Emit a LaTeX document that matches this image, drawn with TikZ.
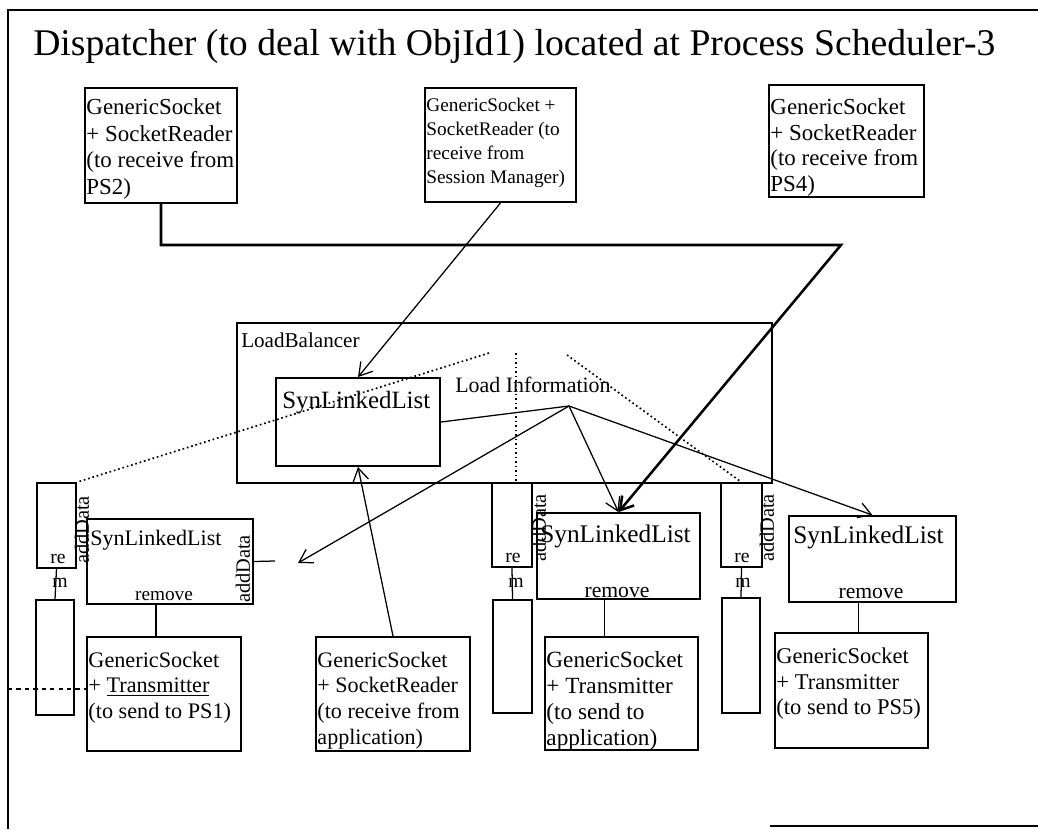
\documentclass[tikz,border=0pt]{standalone}
\usepackage{fontspec}
\setmainfont{Liberation Serif}
\usetikzlibrary{arrows.meta,fit}

\newcommand{\fsz}[2]{\fontsize{#1pt}{#2pt}\selectfont}

\begin{document}
\begin{tikzpicture}[x=0.025cm, y=-0.025cm,
    >={Straight Barb[length=9pt,width=11pt]},
    box/.style={draw, line width=1.3pt, inner sep=0pt},
    slot/.style={draw, line width=1.1pt, inner sep=0pt},
    txt/.style={anchor=north west, align=left, inner xsep=1.5pt, inner ysep=8pt},
    lbl/.style={anchor=base west, inner sep=0pt},
    link/.style={line width=0.9pt},
    dots/.style={dotted, line width=1.2pt},
    vlabel/.style={rotate=90, inner sep=0pt, font=\fsz{14.5}{15}}]

    \useasboundingbox (0,0) rectangle (1038,829);

    % Marco
    \draw[line width=1.3pt] (8,829) -- (8,10) -- (1038,10);
    \draw[line width=1.3pt] (770,826) -- (1038,826);

    % Titulo
    \node[lbl, font=\fsz{26.8}{30}] (title) at (33,55)
        {Dispatcher (to deal with ObjId1) located at Process Scheduler-3};

    % Cajas superiores
    \node[box, fit={(85,88) (237,203)}] (ps2) {};
    \node[txt, font=\fsz{16.3}{19}] (ps2txt) at (ps2.north west)
        {GenericSocket\\+ SocketReader\\(to receive from\\PS2)};
    \node[box, fit={(425,88) (576,202)}] (sess) {};
    \node[txt, font=\fsz{13.7}{17}] (sesstxt) at (sess.north west)
        {GenericSocket +\\SocketReader (to\\receive from\\Session Manager)};
    \node[box, fit={(769,85) (924,197)}] (ps4) {};
    \node[txt, font=\fsz{16.3}{18.3}, inner ysep=10pt] (ps4txt) at (ps4.north west)
        {GenericSocket\\+ SocketReader\\(to receive from\\PS4)};

    % LoadBalancer
    \node[box, line width=1.6pt, fit={(237,323) (772,483)}] (lb) {};
    \node[lbl, font=\fsz{15}{17}] (lbtxt) at (241,347) {LoadBalancer};
    \node[box, fit={(276,378) (440,466)}] (inner) {};
    \node[lbl, font=\fsz{17.7}{20}] (innertxt) at (282,408) {SynLinkedList};
    \node[lbl, font=\fsz{15.6}{18}] (loadinfo) at (455,392) {Load Information};
    \coordinate (hub) at (569,406);
    \coordinate (dl) at (489,353);
    \coordinate (dm) at (516,353);
    \coordinate (dr) at (567,355);

    % Listas
    \node[box, fit={(87,519) (253,604)}] (listA) {};
    \node[lbl, font=\fsz{15.7}{18}] (listAtxt) at (90,545) {SynLinkedList};
    \node[anchor=base, inner sep=0pt, font=\fsz{13.7}{16}] (listArm) at (164,600) {remove};
    \node[vlabel] (listAad) at (243,569) {addData};
    \coordinate (adstub) at (275,561);
    \coordinate (adin) at (298,563);

    \node[box, fit={(537,513) (700,599)}] (listB) {};
    \node[lbl, font=\fsz{18}{20}] (listBtxt) at (540,542) {SynLinkedList};
    \node[anchor=base, inner sep=0pt, font=\fsz{15.4}{17}] (listBrm) at (617,597) {remove};

    \node[box, fit={(789,516) (956,602)}] (listC) {};
    \node[lbl, font=\fsz{18}{20}] (listCtxt) at (793,543) {SynLinkedList};
    \node[anchor=base, inner sep=0pt, font=\fsz{15.4}{17}] (listCrm) at (871,598) {remove};

    % Casillas
    \node[slot, fit={(37,483) (76,568)}] (sq1) {};
    \node[slot, fit={(36,600) (74,715)}] (sq1b) {};
    \node[slot, fit={(492,483) (532,567)}] (sq2) {};
    \node[slot, fit={(493,600) (532,713)}] (sq2b) {};
    \node[slot, fit={(721,483) (762,567)}] (sq3) {};
    \node[slot, fit={(722,598) (760,713)}] (sq3b) {};
    \node[lbl, font=\fsz{14}{16}] (re1) at (50,563) {re};
    \node[lbl, font=\fsz{14}{16}] (m1) at (52,587) {m};
    \node[lbl, font=\fsz{14}{16}] (re2) at (505,562) {re};
    \node[lbl, font=\fsz{14}{16}] (m2) at (508,587) {m};
    \node[lbl, font=\fsz{14}{16}] (re3) at (734,562) {re};
    \node[lbl, font=\fsz{14}{16}] (m3) at (735,587) {m};
    \node[vlabel] (ad1) at (82,530) {addData};
    \node[vlabel] (ad2) at (539,528) {addData};
    \node[vlabel] (ad3) at (767,528) {addData};

    % Cajas inferiores
    \node[box, fit={(87,637) (241,751)}] (ps1) {};
    \node[txt, font=\fsz{15.8}{18.3}, inner ysep=11pt] (ps1txt) at (ps1.north west)
        {GenericSocket\\+ \underline{Transmitter}\\(to send to PS1)};
    \node[box, fit={(316,637) (470,751)}] (appin) {};
    \node[txt, font=\fsz{15.7}{18.3}, inner ysep=11pt] (appintxt) at (appin.north west)
        {GenericSocket\\+ SocketReader\\(to receive from\\application)};
    \node[box, fit={(545,637) (698,750)}] (appout) {};
    \node[txt, font=\fsz{16.5}{18.3}, inner ysep=11pt] (appouttxt) at (appout.north west)
        {GenericSocket\\+ Transmitter\\(to send to\\application)};
    \node[box, fit={(775,633) (928,748)}] (ps5) {};
    \node[txt, font=\fsz{16}{18.3}, inner ysep=11pt] (ps5txt) at (ps5.north west)
        {GenericSocket\\+ Transmitter\\(to send to PS5)};

    % Conexiones
    \coordinate (turn) at (841,245);
    \draw[line width=1.8pt, ->] (ps2.south) |- (turn) -- (listB.north);
    \draw[link, ->] (sess.south) -- (inner.north);
    \draw[link, ->] (appin.north) -- (inner.south);
    \draw[link] (inner.east) -- (hub);
    \draw[link, ->] (hub) -- (listB.north);
    \draw[link, ->] (hub) -- (listC.north);
    \draw[link, ->] (hub) -- (adin);
    \draw[link] (listA.east) -- (adstub);

    % Lineas punteadas
    \draw[dots] (dl) -- (sq1.north east);
    \draw[dots] (dm) -- (dm |- sq2.north);
    \draw[dots] (dr) -- (sq3.north);

    % remove
    \draw[link] ([xshift=-3.5mm]listA.south) -- ([xshift=-3.5mm]listA.south |- ps1.north);
    \draw[link] ([xshift=-3.5mm]listB.south) -- ([xshift=-3.5mm]listB.south |- appout.north);
    \draw[link] ([xshift=-3.5mm]listC.south) -- ([xshift=-3.5mm]listC.south |- ps5.north);
    \draw[link] (sq1.south) -- (sq1b.north);
    \draw[link] (sq2.south) -- (sq2b.north);
    \draw[link] (sq3.south) -- (sq3b.north);

    % Linea discontinua
    \coordinate (dashin) at (8,689);
    \draw[link, dashed] (dashin) -- (dashin -| ps1.west);
\end{tikzpicture}
\end{document}
